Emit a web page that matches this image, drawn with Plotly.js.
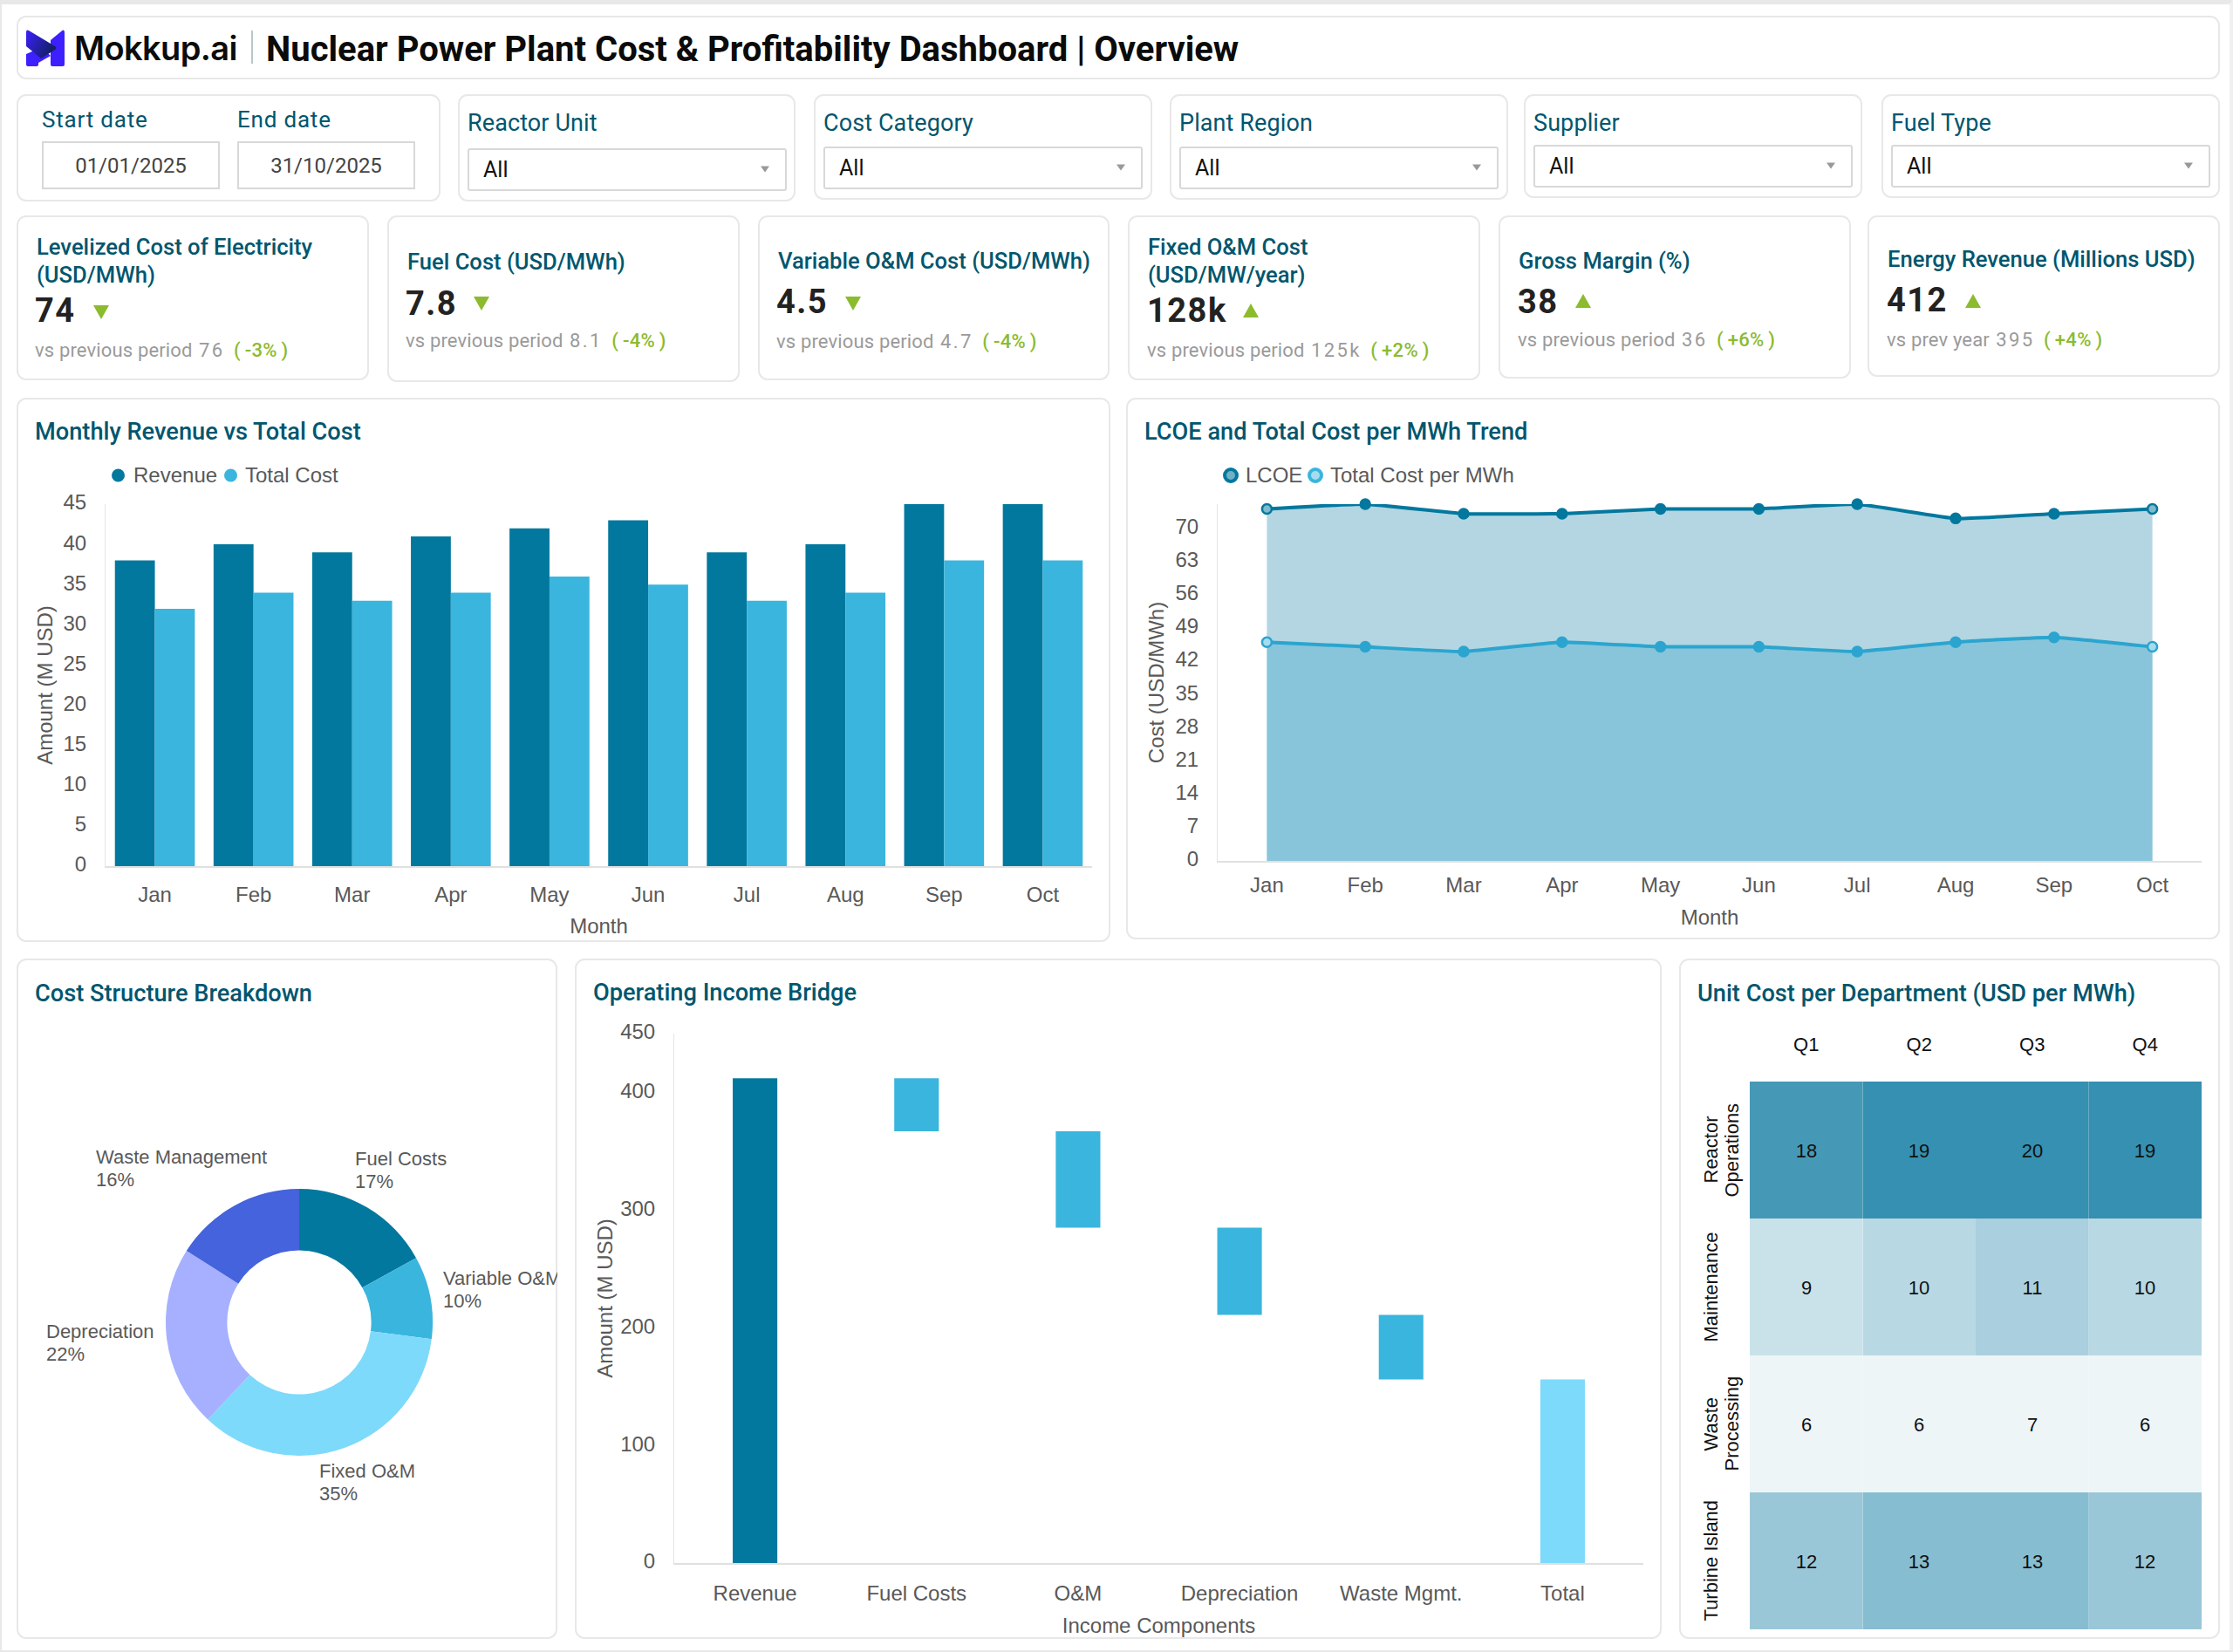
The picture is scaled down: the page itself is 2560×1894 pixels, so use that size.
<!DOCTYPE html>
<html><head><meta charset="utf-8">
<script src="https://cdn.plot.ly/plotly-3.0.1.min.js"></script>
<style>
html,body{margin:0;padding:0;background:#fff;}
body{width:2560px;height:1894px;position:relative;overflow:hidden;font-family:Roboto,sans-serif;}
#strip{position:absolute;left:0;top:0;width:2560px;height:1894px;box-sizing:border-box;border:solid #e8e8e8;border-width:5px 4px 2px 2px;border-right-color:#f0f0f0;}
.card{position:absolute;box-sizing:border-box;border:2px solid #e8e8e8;border-radius:11px;background:#fff;}
.t{position:absolute;white-space:nowrap;line-height:1;transform:translateY(-50%);}
.inp{position:absolute;box-sizing:border-box;border:2px solid #d8d8d8;background:#fff;}
.plot{position:absolute;overflow:hidden;}
svg.abs{position:absolute;left:0;top:0;}
</style></head><body>
<div id="strip"></div>
<div id="page"></div>
<div id="barPlot" class="plot" style="left:19px;top:456px;width:1254px;height:624px"></div>
<div id="linePlot" class="plot" style="left:1291px;top:456px;width:1254px;height:621px"></div>
<div id="piePlot" class="plot" style="left:19px;top:1099px;width:620px;height:780px"></div>
<div id="bridgePlot" class="plot" style="left:659px;top:1099px;width:1246px;height:780px"></div>
<div id="heatPlot" class="plot" style="left:1925px;top:1099px;width:620px;height:780px"></div>
<script>
// ---------- data ----------
const months = ['Jan','Feb','Mar','Apr','May','Jun','Jul','Aug','Sep','Oct'];
const revenue = [38,40,39,41,42,43,39,40,45,45];
const totalCost = [32,34,33,34,36,35,33,34,38,38];
const lcoe = [74,75,73,73,74,74,75,72,73,74];
const costPerMwh = [46,45,44,46,45,45,44,46,47,45];
const costLabels = ['Fuel Costs','Variable O&M','Fixed O&M','Depreciation','Waste Management'];
const costShares = [17,10,35,22,16];
const bridgeLabels = ['Revenue','Fuel Costs','O&M','Depreciation','Waste Mgmt.','Total'];
const bridgeTops = [412,412,367,285,211,156];
const bridgeBottoms = [0,367,285,211,156,0];
const quarters = ['Q1','Q2','Q3','Q4'];
const departments = [['Reactor','Operations'],['Maintenance'],['Waste','Processing'],['Turbine Island']];
const unitCost = [[18,19,20,19],[9,10,11,10],[6,6,7,6],[12,13,13,12]];
const filterNames = ['Reactor Unit','Cost Category','Plant Region','Supplier','Fuel Type'];
const filterValue = 'All';
const dateLabels = ['Start date','End date'];
const dateValues = ['01/01/2025','31/10/2025'];
const kpiTitles = [['Levelized Cost of Electricity','(USD/MWh)'],['Fuel Cost (USD/MWh)'],['Variable O&M Cost (USD/MWh)'],['Fixed O&M Cost','(USD/MW/year)'],['Gross Margin (%)'],['Energy Revenue (Millions USD)']];
const kpiValues = ['74','7.8','4.5','128k','38','412'];
const kpiUp = [false,false,false,true,true,true];
const kpiBasis = ['vs previous period','vs previous period','vs previous period','vs previous period','vs previous period','vs prev year'];
const kpiPrev = ['76','8.1','4.7','125k','36','395'];
const kpiDelta = ['-3%','-4%','-4%','+2%','+6%','+4%'];

// ---------- palette ----------
const DARK='#03789E', MID='#3AB5DD', PALE='#7DDAFB', BLUE='#4463DC', LAV='#A6B0FF';
const TEAL='#00566E', GREY='#595959', GREEN='#8CBB2E';
const page=document.getElementById('page');
function el(cls,style,html){const d=document.createElement('div');d.className=cls;d.style.cssText=style;if(html!==undefined)d.innerHTML=html;page.appendChild(d);return d;}
function card(x,y,x2,y2){el('card',`left:${x}px;top:${y}px;width:${x2-x}px;height:${y2-y}px`);}
function text(x,cy,s,style){el('t',`left:${x}px;top:${cy}px;${style}`,s);}

// header
card(19,18,2545,91);
page.insertAdjacentHTML('beforeend',`<svg class="abs" width="2560" height="120" style="z-index:2"><defs><linearGradient id="lg" x1="0" y1="0" x2="1" y2="0.6"><stop offset="0" stop-color="#3D1FFF"/><stop offset="1" stop-color="#10205f"/></linearGradient></defs>
<path d="M58 46 L72 34.5 Q74 34 74 37 L74 74 Q74 76 72 76 L60 76 Q58 76 58 74 Z M30 62 L48 54 L58 64 L44 72 L44 74 Q44 76 42 76 L32 76 Q30 76 30 74 Z" fill="#3D1FFF"/>
<path d="M30 37 Q30 33.5 33 35 L63 53 Q66 55 63 57 L47 67 L30 53 Z" fill="url(#lg)"/></svg>`);
text(85,55,'Mokkup.ai','font-family:Inter,sans-serif;font-weight:600;font-size:38px;color:#0c0c0c;letter-spacing:-0.6px');
el('t','left:288px;top:54px;width:2px;height:38px;background:#b9c6cc');
text(305,57,'Nuclear Power Plant Cost &amp; Profitability Dashboard | Overview','font-weight:700;font-size:40px;color:#0b0b0b;');

// date filter
card(19,108,505,231);
[48,272].forEach((x,i)=>{
  text(x,137,dateLabels[i],`font-size:26px;letter-spacing:.8px;color:${TEAL}`);
  el('inp',`left:${x}px;top:162px;width:204px;height:55px`);
  text(x+102,190,dateValues[i],'font-size:24px;color:#444;transform:translate(-50%,-50%)');
});
// dropdown filters
const filterBoxes=[[525,912,231,536,170],[933,1321,229,944,168],[1341,1729,229,1352,168],[1747,2135,227,1758,166],[2157,2545,227,2168,166]];
filterBoxes.forEach((b,i)=>{
  card(b[0],108,b[1],b[2]);
  text(b[3],141,filterNames[i],`font-size:27px;letter-spacing:.1px;color:${TEAL}`);
  el('inp',`left:${b[3]}px;top:${b[4]}px;width:366px;height:49px;border-radius:3px`);
  text(b[3]+18,b[4]+24,filterValue,'font-size:25px;color:#111');
  el('t',`left:${b[3]+336}px;top:${b[4]+24}px;width:0;height:0;border-left:5px solid transparent;border-right:5px solid transparent;border-top:7px solid #999`);
});
// KPI cards
const kpiBoxes=[[19,423,436],[444,848,438],[869,1272,436],[1293,1697,436],[1718,2122,434],[2141,2545,432]];
const kpiPos=[[42,[283.5,315.5],40,356,107,350,402],[467,[300.5],465,348,543,340,391],[892,[299.5],890,346,969,340,392],[1316,[283.5,315.5],1315,356,1425,348,402],[1741,[299.5],1740,346,1806,337,390],[2164,[297.5],2163,344,2253,337,390]];
kpiBoxes.forEach((b,i)=>{
  card(b[0],247,b[1],b[2]);
  const p=kpiPos[i];
  kpiTitles[i].forEach((s,j)=>text(p[0],p[1][j],s,`font-size:25.6px;font-weight:500;color:${TEAL}`));
  text(p[2],p[3],kpiValues[i],'font-size:38px;font-weight:700;color:#222;letter-spacing:1.5px');
  el('t',`left:${p[4]}px;top:${p[5]}px;transform:none;width:0;height:0;border-left:9.5px solid transparent;border-right:9.5px solid transparent;${kpiUp[i]?'border-bottom':'border-top'}:16px solid #8CBB2E`);
  text(p[2],p[6],`<span style="letter-spacing:.15px">${kpiBasis[i]}</span> <span style="letter-spacing:2.4px;margin-left:2px">${kpiPrev[i]}</span> <span style="color:${GREEN};font-weight:500;margin-left:5px;letter-spacing:.3px">(&thinsp;${kpiDelta[i]}&thinsp;)</span>`,'font-size:22px;color:#9a9a9a');
});
// chart cards + titles
card(19,456,1273,1080);card(1291,456,2545,1077);card(19,1099,639,1879);card(659,1099,1905,1879);card(1925,1099,2545,1879);
const TS=`font-size:27.2px;font-weight:500;color:${TEAL}`;
text(40,496,'Monthly Revenue vs Total Cost',TS);
text(1312,496,'LCOE and Total Cost per MWh Trend',TS);
text(40,1140,'Cost Structure Breakdown',TS);
text(680,1138.5,'Operating Income Bridge',TS);
text(1946,1140,'Unit Cost per Department (USD per MWh)',TS);
// legends
const LS='"Liberation Sans",Arial,sans-serif';
function legend(items){items.forEach(it=>{
  el('t',`left:${it.x-it.d/2}px;top:545px;width:${it.d}px;height:${it.d}px;border-radius:50%;box-sizing:border-box;background:${it.fill};border:${it.b}px solid ${it.c}`);
  text(it.tx,545,it.s,`font-family:${LS};font-size:24px;color:#595959`);
});}
legend([{x:135,d:15,fill:DARK,b:0,c:DARK,tx:153,s:'Revenue'},{x:264,d:15,fill:MID,b:0,c:MID,tx:281,s:'Total Cost'}]);
legend([{x:1411,d:18,fill:'#6fb0c6',b:4,c:DARK,tx:1428,s:'LCOE'},{x:1508,d:18,fill:'#a6dcef',b:4,c:MID,tx:1525,s:'Total Cost per MWh'}]);

// ---------- charts ----------
const tickF={family:LS,size:24,color:GREY};
const titleF={family:LS,size:24,color:GREY};
const base=(m,extra)=>Object.assign({margin:m,paper_bgcolor:'rgba(0,0,0,0)',plot_bgcolor:'rgba(0,0,0,0)',showlegend:false,font:tickF},extra);
const cfg={displayModeBar:false,staticPlot:true};
const yAxisCommon={showline:true,linecolor:'#e4e4e4',linewidth:1,showgrid:false,zeroline:false,ticks:'',tickfont:tickF,ticklabelstandoff:16,ticklabelshift:-2};
const xAxisCommon={showline:true,linecolor:'#e0e0e0',linewidth:2,showgrid:false,zeroline:false,ticks:'outside',ticklen:10,tickcolor:'rgba(0,0,0,0)',tickfont:tickF};

Plotly.newPlot('barPlot',[
 {type:'bar',x:months,y:revenue,name:'Revenue',marker:{color:DARK}},
 {type:'bar',x:months,y:totalCost,name:'Total Cost',marker:{color:MID}}
],base({l:102,r:21,t:122,b:87},{barmode:'group',bargap:0.19,bargroupgap:0,
 xaxis:Object.assign({},xAxisCommon,{title:{text:'Month',font:titleF,standoff:15.5}}),
 yaxis:Object.assign({},yAxisCommon,{range:[0,45],dtick:5,title:{text:'Amount (M USD)',font:titleF,standoff:4.5}})
}),cfg);

const hollow=(c,f)=>months.map((m,i)=>(i===0||i===months.length-1)?f:c);
Plotly.newPlot('linePlot',[
 {type:'scatter',mode:'lines+markers',cliponaxis:false,x:months,y:lcoe,name:'LCOE',fill:'tozeroy',fillcolor:'rgba(3,120,158,0.30)',line:{color:DARK,width:4,shape:'spline',smoothing:0.35},marker:{size:11,color:hollow(DARK,'#7fbbcf'),line:{color:DARK,width:2.5}}},
 {type:'scatter',mode:'lines+markers',cliponaxis:false,x:months,y:costPerMwh,name:'Total Cost per MWh',fill:'tozeroy',fillcolor:'rgba(38,160,200,0.30)',line:{color:'#2BA5CF',width:4,shape:'spline',smoothing:0.35},marker:{size:11,color:hollow('#2BA5CF','#a6dcef'),line:{color:'#2BA5CF',width:2.5}}}
],base({l:105,r:21,t:122,b:90},{
 xaxis:Object.assign({},xAxisCommon,{range:[-0.5,9.5],ticklen:5,title:{text:'Month',font:titleF,standoff:16.5}}),
 yaxis:Object.assign({},yAxisCommon,{range:[0,75],dtick:7,title:{text:'Cost (USD/MWh)',font:titleF,standoff:6}})
}),cfg);

const PF={family:LS,size:22,color:GREY};
const pieLabelPos=[[385.5,[229.5,256]],[487,[366,392]],[345,[587,613.5]],[32,[427,453.5]],[89,[227,254]]];
const pieAnn=[];
costLabels.forEach((s,i)=>{[s,costShares[i]+'%'].forEach((line,j)=>pieAnn.push({xref:'paper',yref:'paper',x:pieLabelPos[i][0]/620,y:1-pieLabelPos[i][1][j]/780,xanchor:'left',yanchor:'middle',showarrow:false,font:PF,text:line}));});
Plotly.newPlot('piePlot',[{type:'pie',labels:costLabels,values:costShares,hole:0.54,sort:false,direction:'clockwise',rotation:0,textinfo:'none',
 marker:{colors:[DARK,MID,PALE,LAV,BLUE]},domain:{x:[(190-19)/620,(496-19)/620],y:[1-(1669-1099)/780,1-(1363-1099)/780]}}],
 base({l:0,r:0,t:0,b:0},{annotations:pieAnn}),cfg);

Plotly.newPlot('bridgePlot',[{type:'bar',x:bridgeLabels,y:bridgeTops.map((t,i)=>t-bridgeBottoms[i]),base:bridgeBottoms,width:0.276,
 marker:{color:[DARK,MID,MID,MID,MID,PALE]}}],
 base({l:113.5,r:21,t:86,b:87},{
 xaxis:Object.assign({},xAxisCommon,{ticklen:12,title:{text:'Income Components',font:titleF,standoff:16}}),
 yaxis:Object.assign({},yAxisCommon,{range:[0,450],tickmode:'array',tickvals:[0,100,200,300,400,450],title:{text:'Amount (M USD)',font:titleF,standoff:1.5}})
}),cfg);

const hs=[[6,'#EDF5F7'],[7,'#EDF5F7'],[9,'#C9E2EA'],[10,'#B8D9E4'],[11,'#AACFDF'],[12,'#9AC7D7'],[13,'#87BDD0'],[18,'#4699B6'],[19,'#3590B2'],[20,'#3590B2']];
const HF={family:LS,size:22,color:'#111'};
const rowNames=departments.map(d=>d.join(' '));
const rowLineX=[(36-81)/518,(60-81)/518];
const rowAnn=[];
departments.forEach((d,r)=>d.forEach((line,j)=>rowAnn.push({xref:'paper',yref:'y',x:rowLineX[j],y:rowNames[r],xanchor:'center',yanchor:'middle',textangle:-90,showarrow:false,font:HF,text:line})));
Plotly.newPlot('heatPlot',[{type:'heatmap',x:quarters,y:rowNames,z:unitCost,zmin:6,zmax:20,showscale:false,
 colorscale:hs.map(h=>[(h[0]-6)/14,h[1]]),texttemplate:'%{z}',textfont:HF,xgap:0,ygap:0}],
 base({l:81,r:21,t:141,b:11},{annotations:rowAnn,
 shapes:[0.5,2.5].map(x=>({type:'line',xref:'x',yref:'paper',x0:x,x1:x,y0:0,y1:1,line:{color:'rgba(255,255,255,0.25)',width:1}})),
 xaxis:{side:'top',showline:false,showgrid:false,zeroline:false,ticks:'',tickfont:HF,ticklabelstandoff:30},
 yaxis:{autorange:'reversed',showline:false,showgrid:false,zeroline:false,ticks:'',showticklabels:false}
}),cfg);
</script></body></html>
